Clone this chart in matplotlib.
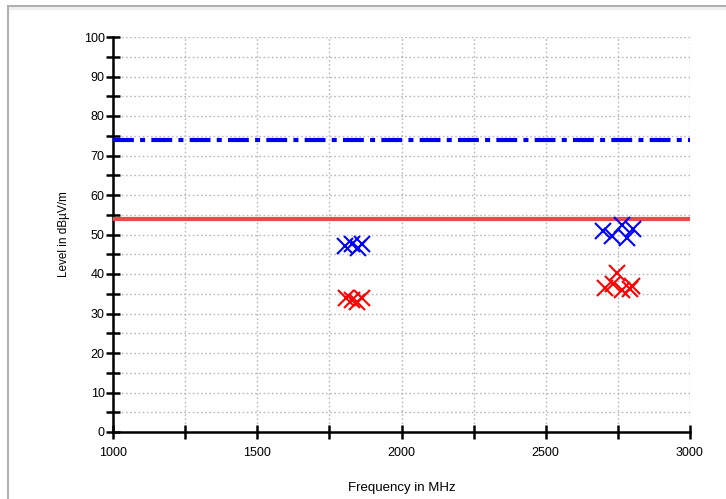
import matplotlib
matplotlib.use('Agg')
import matplotlib.pyplot as plt
from matplotlib.patches import Rectangle

# limit lines (dBuV/m)
peak_limit = 74
avg_limit = 54

# peak readings (blue) and average readings (red)
peak_freq = [1804, 1828, 1849, 1863, 2698, 2730, 2764, 2781, 2802]
peak_level = [47.0, 47.5, 46.5, 47.5, 51.0, 49.6, 52.4, 49.1, 51.4]
avg_freq = [1808, 1830, 1846, 1862, 2705, 2733, 2747, 2764, 2792, 2800]
avg_level = [34.0, 33.5, 33.0, 34.0, 36.5, 37.5, 40.3, 36.0, 36.2, 37.0]

x_ticks = [1000, 1500, 2000, 2500, 3000]
y_ticks = [0, 10, 20, 30, 40, 50, 60, 70, 80, 90, 100]

plt.rcParams['font.family'] = ['Liberation Sans', 'DejaVu Sans']

fig = plt.figure(figsize=(7.26, 4.99), dpi=100)
# outer frame of the report image
fig.patches.append(Rectangle((8 / 726, -0.1), 1.2, 1 - 6 / 499 + 0.1,
                             transform=fig.transFigure, facecolor='white',
                             edgecolor='#b0b0b0', linewidth=1.5, zorder=-1))
fig.patches.append(Rectangle((9 / 726, 1 - 10 / 499), 1.2, 3 / 499,
                             transform=fig.transFigure, facecolor='#efefef',
                             edgecolor='none', zorder=-1))
ax = fig.add_axes([113 / 726, 1 - 432 / 499, 577 / 726, 395 / 499])
ax.set_facecolor('white')

ax.axhline(avg_limit, color='#f04848', linewidth=3, zorder=3)
ax.axhline(peak_limit, color='#0000ee', linewidth=3, linestyle=(0, (5, 1.5, 1.2, 1.5)), zorder=3)

ax.plot(peak_freq, peak_level, linestyle='none', marker='x', markersize=12,
        markeredgewidth=1.5, color='#0000ff', zorder=4)
ax.plot(avg_freq, avg_level, linestyle='none', marker='x', markersize=12,
        markeredgewidth=1.5, color='#ff0000', zorder=4)

ax.set_xlim(1000, 3000)
ax.set_ylim(0, 100)
ax.set_xticks(x_ticks)
ax.set_xticks(range(1000, 3001, 250), minor=True)
ax.set_yticks(y_ticks)
ax.set_yticks(range(0, 101, 5), minor=True)
ax.grid(which='both', color='#b8b8b8', linestyle=(0, (1.2, 1.8)), linewidth=1)

for side in ['top', 'right']:
    ax.spines[side].set_visible(False)
for side in ['left', 'bottom']:
    ax.spines[side].set_linewidth(1.8)
ax.tick_params(which='both', direction='inout', length=10, width=1.8,
               labelsize=9, colors='black')
ax.tick_params(axis='x', pad=6)
ax.tick_params(axis='y', pad=1)

ax.set_xlabel('Frequency in MHz', fontsize=9.5, labelpad=16)
ax.set_ylabel('Level in dBµV/m', fontsize=8.5, labelpad=10)

fig.savefig('out.png', dpi=100)
